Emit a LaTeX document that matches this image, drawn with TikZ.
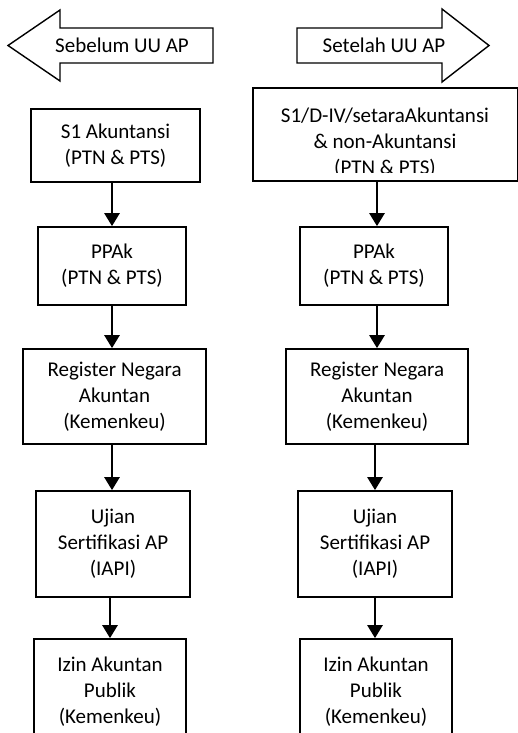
\documentclass[tikz,border=0pt]{standalone}
\usepackage{fontspec}
\setmainfont{Carlito}
\usetikzlibrary{arrows.meta}
\begin{document}
\begin{tikzpicture}[x=1pt,y=-1pt,
  box/.style={draw, line width=1.7pt, align=center, inner sep=0pt,
    font=\fontsize{21}{26}\selectfont},
  conn/.style={line width=2.6pt, -{Triangle[length=13pt,width=15pt]}},
  lbl/.style={font=\fontsize{21}{26}\selectfont, inner sep=0pt},
  bigarrow/.style={draw, line width=1.4pt, fill=white}]
\useasboundingbox (0,0) rectangle (517,733);
% header arrows
\draw[bigarrow] (8,45.5) -- (60,10) -- (60,28) -- (213,28) -- (213,63) -- (60,63) -- (60,81) -- cycle;
\node[lbl] (lh) at (122,45) {Sebelum UU AP};
\draw[bigarrow] (297,28) -- (442,28) -- (442,9) -- (489,45.5) -- (442,82) -- (442,63) -- (297,63) -- cycle;
\node[lbl] (rh) at (384,45) {Setelah UU AP};
% left column
\node[box, minimum width=169pt, minimum height=73pt] (l1) at (115.5,145.5) {S1 Akuntansi\\(PTN \& PTS)};
\node[box, minimum width=148pt, minimum height=78pt] (l2) at (112,266) {PPAk\\(PTN \& PTS)};
\node[box, minimum width=183pt, minimum height=95pt] (l3) at (114.5,396.5) {Register Negara\\Akuntan\\(Kemenkeu)};
\node[box, minimum width=154pt, minimum height=106pt] (l4) at (113,544) {Ujian\\Sertifikasi AP\\(IAPI)};
\node[box, minimum width=152pt, minimum height=106pt] (l5) at (110,692) {Izin Akuntan\\Publik\\(Kemenkeu)};
% right column
\node[box, minimum width=265pt, minimum height=93pt] (r1) at (385.5,134.5) {};
\begin{scope}
\clip (254,89) rectangle (517,172);
\node[lbl, align=center] (r1t) at (385,142.5) {S1/D-IV/setaraAkuntansi\\\& non-Akuntansi\\(PTN \& PTS)};
\end{scope}
\node[box, minimum width=148pt, minimum height=78pt] (r2) at (374,266) {PPAk\\(PTN \& PTS)};
\node[box, minimum width=182pt, minimum height=95pt] (r3) at (377,396.5) {Register Negara\\Akuntan\\(Kemenkeu)};
\node[box, minimum width=154pt, minimum height=106pt] (r4) at (375,544) {Ujian\\Sertifikasi AP\\(IAPI)};
\node[box, minimum width=152pt, minimum height=106pt] (r5) at (376,692) {Izin Akuntan\\Publik\\(Kemenkeu)};
% connectors
\draw[conn] (l1.south -| l2.north) -- (l2.north);
\draw[conn] (l2.south) -- (l3.north -| l2.south);
\draw[conn] (l3.south -| l2.south) -- (l4.north -| l2.south);
\draw[conn] (l4.south -| l5.north) -- (l5.north);
\draw[conn] (r1.south -| r3.north) -- (r2.north -| r3.north);
\draw[conn] (r2.south -| r3.north) -- (r3.north);
\draw[conn] (r3.south -| r4.north) -- (r4.north);
\draw[conn] (r4.south -| r4.north) -- (r5.north -| r4.north);
\end{tikzpicture}
\end{document}
